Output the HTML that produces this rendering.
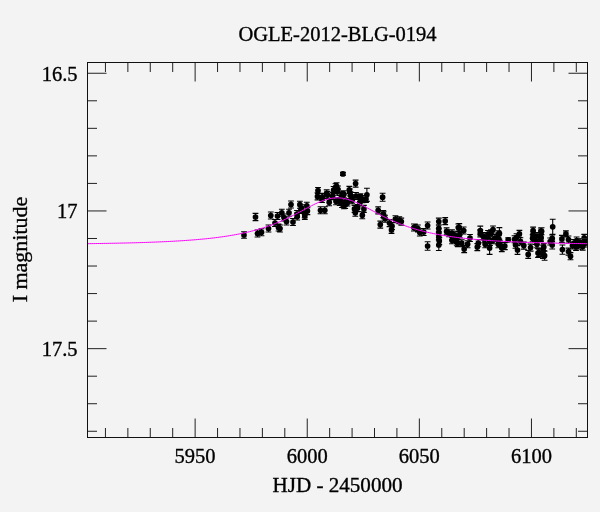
<!DOCTYPE html>
<html><head><meta charset="utf-8"><style>
html,body{margin:0;padding:0;background:#f3f3f3;}
svg{display:block;}
text{stroke:#000;stroke-width:0.35px;}
.gs{will-change:transform;}
text{font-family:"Liberation Serif", serif;fill:#000;}
</style></head><body>
<svg class="gs" width="600" height="512" viewBox="0 0 600 512">
<rect x="0" y="0" width="600" height="512" fill="#f3f3f3"/>
<text x="337.5" y="41" font-size="20.5" text-anchor="middle">OGLE-2012-BLG-0194</text>
<text x="337.5" y="491.5" font-size="21.1" text-anchor="middle">HJD - 2450000</text>
<text transform="translate(27,249.5) rotate(-90)" x="0" y="0" font-size="22" text-anchor="middle">I magnitude</text>
<g font-size="20.5" text-anchor="end">
<text x="77.5" y="80.5">16.5</text>
<text x="77.5" y="218">17</text>
<text x="77.5" y="356">17.5</text>
</g>
<g font-size="20.5" text-anchor="middle">
<text x="195.1" y="462.5">5950</text>
<text x="307.2" y="462.5">6000</text>
<text x="419.3" y="462.5">6050</text>
<text x="531.5" y="462.5">6100</text>
</g>
<defs><clipPath id="c"><rect x="87.5" y="62.5" width="500" height="375"/></clipPath></defs>
<g clip-path="url(#c)">
<path d="M244.0,231.8V238.2M241.1,231.8h5.8M241.1,238.2h5.8M255.5,213.4V220.6M252.6,213.4h5.8M252.6,220.6h5.8M257.5,230.0V237.0M254.6,230.0h5.8M254.6,237.0h5.8M261.5,228.7V235.7M258.6,228.7h5.8M258.6,235.7h5.8M268.5,225.0V232.0M265.6,225.0h5.8M265.6,232.0h5.8M270.8,212.0V219.0M267.9,212.0h5.8M267.9,219.0h5.8M277.5,212.5V219.5M274.6,212.5h5.8M274.6,219.5h5.8M275.0,219.5V226.5M272.1,219.5h5.8M272.1,226.5h5.8M278.5,224.0V231.0M275.6,224.0h5.8M275.6,231.0h5.8M280.0,225.0V232.0M277.1,225.0h5.8M277.1,232.0h5.8M281.8,209.3V216.3M278.9,209.3h5.8M278.9,216.3h5.8M284.0,214.0V221.0M281.1,214.0h5.8M281.1,221.0h5.8M286.5,218.0V225.0M283.6,218.0h5.8M283.6,225.0h5.8M289.0,209.3V216.3M286.1,209.3h5.8M286.1,216.3h5.8M291.0,201.0V208.0M288.1,201.0h5.8M288.1,208.0h5.8M293.0,218.5V225.5M290.1,218.5h5.8M290.1,225.5h5.8M297.2,213.0V220.0M294.3,213.0h5.8M294.3,220.0h5.8M299.9,201.2V208.2M297.0,201.2h5.8M297.0,208.2h5.8M301.5,204.9V211.9M298.6,204.9h5.8M298.6,211.9h5.8M304.7,210.8V217.8M301.8,210.8h5.8M301.8,217.8h5.8M306.8,202.3V209.3M303.9,202.3h5.8M303.9,209.3h5.8M307.4,207.6V214.6M304.5,207.6h5.8M304.5,214.6h5.8M300.9,206.5V213.5M298.0,206.5h5.8M298.0,213.5h5.8M297.0,210.5V217.5M294.1,210.5h5.8M294.1,217.5h5.8M304.8,212.4V219.4M301.9,212.4h5.8M301.9,219.4h5.8M318.0,187.5V193.5M315.1,187.5h5.8M315.1,193.5h5.8M317.5,192.9V199.9M314.6,192.9h5.8M314.6,199.9h5.8M322.3,193.4V200.4M319.4,193.4h5.8M319.4,200.4h5.8M326.7,189.9V196.9M323.8,189.9h5.8M323.8,196.9h5.8M320.5,206.8V213.8M317.6,206.8h5.8M317.6,213.8h5.8M324.8,206.8V213.8M321.9,206.8h5.8M321.9,213.8h5.8M329.2,198.7V205.7M326.3,198.7h5.8M326.3,205.7h5.8M333.6,186.5V193.5M330.7,186.5h5.8M330.7,193.5h5.8M335.5,183.8V190.8M332.6,183.8h5.8M332.6,190.8h5.8M338.0,186.0V193.0M335.1,186.0h5.8M335.1,193.0h5.8M336.0,197.7V204.7M333.1,197.7h5.8M333.1,204.7h5.8M332.6,192.6V199.6M329.7,192.6h5.8M329.7,199.6h5.8M341.9,191.9V198.9M339.0,191.9h5.8M339.0,198.9h5.8M343.8,201.7V208.7M340.9,201.7h5.8M340.9,208.7h5.8M342.9,172.4V175.4M340.0,172.4h5.8M340.0,175.4h5.8M355.6,180.1V187.1M352.7,180.1h5.8M352.7,187.1h5.8M349.3,186.4V193.4M346.4,186.4h5.8M346.4,193.4h5.8M366.9,188.2V201.4M364.0,188.2h5.8M364.0,201.4h5.8M382.6,193.2V201.2M379.7,193.2h5.8M379.7,201.2h5.8M378.2,206.9V213.9M375.3,206.9h5.8M375.3,213.9h5.8M383.3,210.5V217.5M380.4,210.5h5.8M380.4,217.5h5.8M336.6,182.8V189.8M333.7,182.8h5.8M333.7,189.8h5.8M337.3,188.2V195.2M334.4,188.2h5.8M334.4,195.2h5.8M339.7,198.4V205.4M336.8,198.4h5.8M336.8,205.4h5.8M342.8,192.1V199.1M339.9,192.1h5.8M339.9,199.1h5.8M350.6,192.1V199.1M347.7,192.1h5.8M347.7,199.1h5.8M352.2,196.8V203.8M349.3,196.8h5.8M349.3,203.8h5.8M345.2,201.5V208.5M342.3,201.5h5.8M342.3,208.5h5.8M354.5,205.4V212.4M351.6,205.4h5.8M351.6,212.4h5.8M357.7,204.6V211.6M354.8,204.6h5.8M354.8,211.6h5.8M355.3,209.3V216.3M352.4,209.3h5.8M352.4,216.3h5.8M363.9,205.4V212.4M361.0,205.4h5.8M361.0,212.4h5.8M362.3,211.7V218.7M359.4,211.7h5.8M359.4,218.7h5.8M360.0,194.5V201.5M357.1,194.5h5.8M357.1,201.5h5.8M322.0,195.5V202.5M319.1,195.5h5.8M319.1,202.5h5.8M340.0,195.5V202.5M337.1,195.5h5.8M337.1,202.5h5.8M356.0,192.5V199.5M353.1,192.5h5.8M353.1,199.5h5.8M360.0,199.0V206.0M357.1,199.0h5.8M357.1,206.0h5.8M347.5,199.0V206.0M344.6,199.0h5.8M344.6,206.0h5.8M366.0,195.5V202.5M363.1,195.5h5.8M363.1,202.5h5.8M327.5,191.5V198.5M324.6,191.5h5.8M324.6,198.5h5.8M350.0,189.0V196.0M347.1,189.0h5.8M347.1,196.0h5.8M360.5,193.7V200.7M357.6,193.7h5.8M357.6,200.7h5.8M362.5,195.7V202.7M359.6,195.7h5.8M359.6,202.7h5.8M343.9,190.8V197.8M341.0,190.8h5.8M341.0,197.8h5.8M345.9,198.6V205.6M343.0,198.6h5.8M343.0,205.6h5.8M351.7,194.7V201.7M348.8,194.7h5.8M348.8,201.7h5.8M342.0,200.5V207.5M339.1,200.5h5.8M339.1,207.5h5.8M383.7,211.8V218.8M380.8,211.8h5.8M380.8,218.8h5.8M385.1,215.2V222.2M382.2,215.2h5.8M382.2,222.2h5.8M380.3,221.1V228.1M377.4,221.1h5.8M377.4,228.1h5.8M389.5,219.6V226.6M386.6,219.6h5.8M386.6,226.6h5.8M392.0,222.5V229.5M389.1,222.5h5.8M389.1,229.5h5.8M391.5,226.4V233.4M388.6,226.4h5.8M388.6,233.4h5.8M395.4,215.7V222.7M392.5,215.7h5.8M392.5,222.7h5.8M399.3,216.7V223.7M396.4,216.7h5.8M396.4,223.7h5.8M401.3,218.1V225.1M398.4,218.1h5.8M398.4,225.1h5.8M414.9,224.0V231.0M412.0,224.0h5.8M412.0,231.0h5.8M417.9,225.0V232.0M415.0,225.0h5.8M415.0,232.0h5.8M413.9,224.0V231.0M411.0,224.0h5.8M411.0,231.0h5.8M419.8,229.0V236.0M416.9,229.0h5.8M416.9,236.0h5.8M423.7,228.5V235.5M420.8,228.5h5.8M420.8,235.5h5.8M427.6,222.0V229.0M424.7,222.0h5.8M424.7,229.0h5.8M427.6,241.8V250.2M424.7,241.8h5.8M424.7,250.2h5.8M438.8,218.1V225.1M435.9,218.1h5.8M435.9,225.1h5.8M445.2,217.6V224.6M442.3,217.6h5.8M442.3,224.6h5.8M438.8,224.9V231.9M435.9,224.9h5.8M435.9,231.9h5.8M438.8,228.8V235.8M435.9,228.8h5.8M435.9,235.8h5.8M438.8,233.7V240.7M435.9,233.7h5.8M435.9,240.7h5.8M439.3,237.6V244.6M436.4,237.6h5.8M436.4,244.6h5.8M438.8,239.5V250.5M435.9,239.5h5.8M435.9,250.5h5.8M446.6,227.9V234.9M443.7,227.9h5.8M443.7,234.9h5.8M449.1,229.8V236.8M446.2,229.8h5.8M446.2,236.8h5.8M452.0,232.8V239.8M449.1,232.8h5.8M449.1,239.8h5.8M454.9,236.7V243.7M452.0,236.7h5.8M452.0,243.7h5.8M457.9,239.6V246.6M455.0,239.6h5.8M455.0,246.6h5.8M458.3,224.0V231.0M455.4,224.0h5.8M455.4,231.0h5.8M459.3,223.6V231.6M456.4,223.6h5.8M456.4,231.6h5.8M463.7,227.0V234.0M460.8,227.0h5.8M460.8,234.0h5.8M452.0,229.9V236.9M449.1,229.9h5.8M449.1,236.9h5.8M454.9,231.9V238.9M452.0,231.9h5.8M452.0,238.9h5.8M459.8,230.9V237.9M456.9,230.9h5.8M456.9,237.9h5.8M452.0,236.8V243.8M449.1,236.8h5.8M449.1,243.8h5.8M456.8,238.7V245.7M453.9,238.7h5.8M453.9,245.7h5.8M461.7,239.7V246.7M458.8,239.7h5.8M458.8,246.7h5.8M467.6,240.7V247.7M464.7,240.7h5.8M464.7,247.7h5.8M464.2,245.6V252.6M461.3,245.6h5.8M461.3,252.6h5.8M478.3,239.7V246.7M475.4,239.7h5.8M475.4,246.7h5.8M477.3,243.6V250.6M474.4,243.6h5.8M474.4,250.6h5.8M480.3,226.1V234.9M477.4,226.1h5.8M477.4,234.9h5.8M480.3,229.9V236.9M477.4,229.9h5.8M477.4,236.9h5.8M484.2,235.8V242.8M481.3,235.8h5.8M481.3,242.8h5.8M487.1,233.8V240.8M484.2,233.8h5.8M484.2,240.8h5.8M491.0,229.9V236.9M488.1,229.9h5.8M488.1,236.9h5.8M493.0,226.0V233.0M490.1,226.0h5.8M490.1,233.0h5.8M489.6,241.8V254.4M486.7,241.8h5.8M486.7,254.4h5.8M485.2,240.7V247.7M482.3,240.7h5.8M482.3,247.7h5.8M493.0,236.8V243.8M490.1,236.8h5.8M490.1,243.8h5.8M498.3,230.9V237.9M495.4,230.9h5.8M495.4,237.9h5.8M498.3,240.7V247.7M495.4,240.7h5.8M495.4,247.7h5.8M488.0,230.5V237.5M485.1,230.5h5.8M485.1,237.5h5.8M490.0,238.5V245.5M487.1,238.5h5.8M487.1,245.5h5.8M495.0,234.5V241.5M492.1,234.5h5.8M492.1,241.5h5.8M483.0,232.5V239.5M480.1,232.5h5.8M480.1,239.5h5.8M470.0,234.5V241.5M467.1,234.5h5.8M467.1,241.5h5.8M456.0,234.5V241.5M453.1,234.5h5.8M453.1,241.5h5.8M499.4,227.6V239.2M496.5,227.6h5.8M496.5,239.2h5.8M498.9,235.8V242.8M496.0,235.8h5.8M496.0,242.8h5.8M499.9,240.7V247.7M497.0,240.7h5.8M497.0,247.7h5.8M501.8,244.6V251.6M498.9,244.6h5.8M498.9,251.6h5.8M504.8,242.6V249.6M501.9,242.6h5.8M501.9,249.6h5.8M508.2,237.8V241.8M505.3,237.8h5.8M505.3,241.8h5.8M519.4,230.4V237.4M516.5,230.4h5.8M516.5,237.4h5.8M516.5,233.8V240.8M513.6,233.8h5.8M513.6,240.8h5.8M514.5,235.8V242.8M511.6,235.8h5.8M511.6,242.8h5.8M515.5,241.2V248.2M512.6,241.2h5.8M512.6,248.2h5.8M517.5,245.6V254.4M514.6,245.6h5.8M514.6,254.4h5.8M520.4,237.8V244.8M517.5,237.8h5.8M517.5,244.8h5.8M523.8,242.1V249.1M520.9,242.1h5.8M520.9,249.1h5.8M530.6,244.1V251.1M527.7,244.1h5.8M527.7,251.1h5.8M528.2,250.4V258.4M525.3,250.4h5.8M525.3,258.4h5.8M533.1,227.1V233.9M530.2,227.1h5.8M530.2,233.9h5.8M533.1,231.9V238.9M530.2,231.9h5.8M530.2,238.9h5.8M532.6,234.8V241.8M529.7,234.8h5.8M529.7,241.8h5.8M540.9,228.0V234.0M538.0,228.0h5.8M538.0,234.0h5.8M540.9,234.8V241.8M538.0,234.8h5.8M538.0,241.8h5.8M537.0,240.7V247.7M534.1,240.7h5.8M534.1,247.7h5.8M538.0,248.6V257.4M535.1,248.6h5.8M535.1,257.4h5.8M542.9,251.4V258.4M540.0,251.4h5.8M540.0,258.4h5.8M537.0,232.5V239.5M534.1,232.5h5.8M534.1,239.5h5.8M536.0,237.5V244.5M533.1,237.5h5.8M533.1,244.5h5.8M543.8,243.6V250.6M540.9,243.6h5.8M540.9,250.6h5.8M541.6,227.8V234.8M538.7,227.8h5.8M538.7,234.8h5.8M541.0,233.9V240.9M538.1,233.9h5.8M538.1,240.9h5.8M543.1,245.1V252.1M540.2,245.1h5.8M540.2,252.1h5.8M544.6,251.1V260.3M541.7,251.1h5.8M541.7,260.3h5.8M539.0,249.2V256.2M536.1,249.2h5.8M536.1,256.2h5.8M552.7,219.3V234.3M549.8,219.3h5.8M549.8,234.3h5.8M552.2,234.9V241.9M549.3,234.9h5.8M549.3,241.9h5.8M552.2,241.0V249.0M549.3,241.0h5.8M549.3,249.0h5.8M550.2,238.0V245.0M547.3,238.0h5.8M547.3,245.0h5.8M561.9,235.4V242.4M559.0,235.4h5.8M559.0,242.4h5.8M565.9,230.9V236.9M563.0,230.9h5.8M563.0,236.9h5.8M562.4,245.0V254.2M559.5,245.0h5.8M559.5,254.2h5.8M568.5,236.0V243.0M565.6,236.0h5.8M565.6,243.0h5.8M568.5,248.1V255.1M565.6,248.1h5.8M565.6,255.1h5.8M570.5,252.6V259.8M567.6,252.6h5.8M567.6,259.8h5.8M572.5,242.0V249.0M569.6,242.0h5.8M569.6,249.0h5.8M576.6,237.0V244.0M573.7,237.0h5.8M573.7,244.0h5.8M578.6,242.0V249.0M575.7,242.0h5.8M575.7,249.0h5.8M584.2,234.4V241.4M581.3,234.4h5.8M581.3,241.4h5.8M584.7,240.0V247.0M581.8,240.0h5.8M581.8,247.0h5.8M582.7,243.1V250.1M579.8,243.1h5.8M579.8,250.1h5.8M574.0,239.5V246.5M571.1,239.5h5.8M571.1,246.5h5.8M580.0,238.5V245.5M577.1,238.5h5.8M577.1,245.5h5.8M576.0,243.5V250.5M573.1,243.5h5.8M573.1,250.5h5.8M586.0,237.5V244.5M583.1,237.5h5.8M583.1,244.5h5.8" stroke="#000" stroke-width="1.1" fill="none"/>
<g fill="#000"><circle cx="244.0" cy="235.0" r="2.85"/><circle cx="255.5" cy="217.0" r="2.85"/><circle cx="257.5" cy="233.5" r="2.85"/><circle cx="261.5" cy="232.2" r="2.85"/><circle cx="268.5" cy="228.5" r="2.85"/><circle cx="270.8" cy="215.5" r="2.85"/><circle cx="277.5" cy="216.0" r="2.85"/><circle cx="275.0" cy="223.0" r="2.85"/><circle cx="278.5" cy="227.5" r="2.85"/><circle cx="280.0" cy="228.5" r="2.85"/><circle cx="281.8" cy="212.8" r="2.85"/><circle cx="284.0" cy="217.5" r="2.85"/><circle cx="286.5" cy="221.5" r="2.85"/><circle cx="289.0" cy="212.8" r="2.85"/><circle cx="291.0" cy="204.5" r="2.85"/><circle cx="293.0" cy="222.0" r="2.85"/><circle cx="297.2" cy="216.5" r="2.85"/><circle cx="299.9" cy="204.7" r="2.85"/><circle cx="301.5" cy="208.4" r="2.85"/><circle cx="304.7" cy="214.3" r="2.85"/><circle cx="306.8" cy="205.8" r="2.85"/><circle cx="307.4" cy="211.1" r="2.85"/><circle cx="300.9" cy="210.0" r="2.85"/><circle cx="297.0" cy="214.0" r="2.85"/><circle cx="304.8" cy="215.9" r="2.85"/><circle cx="318.0" cy="190.5" r="2.85"/><circle cx="317.5" cy="196.4" r="2.85"/><circle cx="322.3" cy="196.9" r="2.85"/><circle cx="326.7" cy="193.4" r="2.85"/><circle cx="320.5" cy="210.3" r="2.85"/><circle cx="324.8" cy="210.3" r="2.85"/><circle cx="329.2" cy="202.2" r="2.85"/><circle cx="333.6" cy="190.0" r="2.85"/><circle cx="335.5" cy="187.3" r="2.85"/><circle cx="338.0" cy="189.5" r="2.85"/><circle cx="336.0" cy="201.2" r="2.85"/><circle cx="332.6" cy="196.1" r="2.85"/><circle cx="341.9" cy="195.4" r="2.85"/><circle cx="343.8" cy="205.2" r="2.85"/><circle cx="342.9" cy="173.9" r="2.85"/><circle cx="355.6" cy="183.6" r="2.85"/><circle cx="349.3" cy="189.9" r="2.85"/><circle cx="366.9" cy="194.8" r="2.85"/><circle cx="382.6" cy="197.2" r="2.85"/><circle cx="378.2" cy="210.4" r="2.85"/><circle cx="383.3" cy="214.0" r="2.85"/><circle cx="336.6" cy="186.3" r="2.85"/><circle cx="337.3" cy="191.7" r="2.85"/><circle cx="339.7" cy="201.9" r="2.85"/><circle cx="342.8" cy="195.6" r="2.85"/><circle cx="350.6" cy="195.6" r="2.85"/><circle cx="352.2" cy="200.3" r="2.85"/><circle cx="345.2" cy="205.0" r="2.85"/><circle cx="354.5" cy="208.9" r="2.85"/><circle cx="357.7" cy="208.1" r="2.85"/><circle cx="355.3" cy="212.8" r="2.85"/><circle cx="363.9" cy="208.9" r="2.85"/><circle cx="362.3" cy="215.2" r="2.85"/><circle cx="360.0" cy="198.0" r="2.85"/><circle cx="322.0" cy="199.0" r="2.85"/><circle cx="340.0" cy="199.0" r="2.85"/><circle cx="356.0" cy="196.0" r="2.85"/><circle cx="360.0" cy="202.5" r="2.85"/><circle cx="347.5" cy="202.5" r="2.85"/><circle cx="366.0" cy="199.0" r="2.85"/><circle cx="327.5" cy="195.0" r="2.85"/><circle cx="350.0" cy="192.5" r="2.85"/><circle cx="360.5" cy="197.2" r="2.85"/><circle cx="362.5" cy="199.2" r="2.85"/><circle cx="343.9" cy="194.3" r="2.85"/><circle cx="345.9" cy="202.1" r="2.85"/><circle cx="351.7" cy="198.2" r="2.85"/><circle cx="342.0" cy="204.0" r="2.85"/><circle cx="383.7" cy="215.3" r="2.85"/><circle cx="385.1" cy="218.7" r="2.85"/><circle cx="380.3" cy="224.6" r="2.85"/><circle cx="389.5" cy="223.1" r="2.85"/><circle cx="392.0" cy="226.0" r="2.85"/><circle cx="391.5" cy="229.9" r="2.85"/><circle cx="395.4" cy="219.2" r="2.85"/><circle cx="399.3" cy="220.2" r="2.85"/><circle cx="401.3" cy="221.6" r="2.85"/><circle cx="414.9" cy="227.5" r="2.85"/><circle cx="417.9" cy="228.5" r="2.85"/><circle cx="413.9" cy="227.5" r="2.85"/><circle cx="419.8" cy="232.5" r="2.85"/><circle cx="423.7" cy="232.0" r="2.85"/><circle cx="427.6" cy="225.5" r="2.85"/><circle cx="427.6" cy="246.0" r="2.85"/><circle cx="438.8" cy="221.6" r="2.85"/><circle cx="445.2" cy="221.1" r="2.85"/><circle cx="438.8" cy="228.4" r="2.85"/><circle cx="438.8" cy="232.3" r="2.85"/><circle cx="438.8" cy="237.2" r="2.85"/><circle cx="439.3" cy="241.1" r="2.85"/><circle cx="438.8" cy="245.0" r="2.85"/><circle cx="446.6" cy="231.4" r="2.85"/><circle cx="449.1" cy="233.3" r="2.85"/><circle cx="452.0" cy="236.3" r="2.85"/><circle cx="454.9" cy="240.2" r="2.85"/><circle cx="457.9" cy="243.1" r="2.85"/><circle cx="458.3" cy="227.5" r="2.85"/><circle cx="459.3" cy="227.6" r="2.85"/><circle cx="463.7" cy="230.5" r="2.85"/><circle cx="452.0" cy="233.4" r="2.85"/><circle cx="454.9" cy="235.4" r="2.85"/><circle cx="459.8" cy="234.4" r="2.85"/><circle cx="452.0" cy="240.3" r="2.85"/><circle cx="456.8" cy="242.2" r="2.85"/><circle cx="461.7" cy="243.2" r="2.85"/><circle cx="467.6" cy="244.2" r="2.85"/><circle cx="464.2" cy="249.1" r="2.85"/><circle cx="478.3" cy="243.2" r="2.85"/><circle cx="477.3" cy="247.1" r="2.85"/><circle cx="480.3" cy="230.5" r="2.85"/><circle cx="480.3" cy="233.4" r="2.85"/><circle cx="484.2" cy="239.3" r="2.85"/><circle cx="487.1" cy="237.3" r="2.85"/><circle cx="491.0" cy="233.4" r="2.85"/><circle cx="493.0" cy="229.5" r="2.85"/><circle cx="489.6" cy="248.1" r="2.85"/><circle cx="485.2" cy="244.2" r="2.85"/><circle cx="493.0" cy="240.3" r="2.85"/><circle cx="498.3" cy="234.4" r="2.85"/><circle cx="498.3" cy="244.2" r="2.85"/><circle cx="488.0" cy="234.0" r="2.85"/><circle cx="490.0" cy="242.0" r="2.85"/><circle cx="495.0" cy="238.0" r="2.85"/><circle cx="483.0" cy="236.0" r="2.85"/><circle cx="470.0" cy="238.0" r="2.85"/><circle cx="456.0" cy="238.0" r="2.85"/><circle cx="499.4" cy="233.4" r="2.85"/><circle cx="498.9" cy="239.3" r="2.85"/><circle cx="499.9" cy="244.2" r="2.85"/><circle cx="501.8" cy="248.1" r="2.85"/><circle cx="504.8" cy="246.1" r="2.85"/><circle cx="508.2" cy="239.8" r="2.85"/><circle cx="519.4" cy="233.9" r="2.85"/><circle cx="516.5" cy="237.3" r="2.85"/><circle cx="514.5" cy="239.3" r="2.85"/><circle cx="515.5" cy="244.7" r="2.85"/><circle cx="517.5" cy="250.0" r="2.85"/><circle cx="520.4" cy="241.3" r="2.85"/><circle cx="523.8" cy="245.6" r="2.85"/><circle cx="530.6" cy="247.6" r="2.85"/><circle cx="528.2" cy="254.4" r="2.85"/><circle cx="533.1" cy="230.5" r="2.85"/><circle cx="533.1" cy="235.4" r="2.85"/><circle cx="532.6" cy="238.3" r="2.85"/><circle cx="540.9" cy="231.0" r="2.85"/><circle cx="540.9" cy="238.3" r="2.85"/><circle cx="537.0" cy="244.2" r="2.85"/><circle cx="538.0" cy="253.0" r="2.85"/><circle cx="542.9" cy="254.9" r="2.85"/><circle cx="537.0" cy="236.0" r="2.85"/><circle cx="536.0" cy="241.0" r="2.85"/><circle cx="543.8" cy="247.1" r="2.85"/><circle cx="541.6" cy="231.3" r="2.85"/><circle cx="541.0" cy="237.4" r="2.85"/><circle cx="543.1" cy="248.6" r="2.85"/><circle cx="544.6" cy="255.7" r="2.85"/><circle cx="539.0" cy="252.7" r="2.85"/><circle cx="552.7" cy="226.8" r="2.85"/><circle cx="552.2" cy="238.4" r="2.85"/><circle cx="552.2" cy="245.0" r="2.85"/><circle cx="550.2" cy="241.5" r="2.85"/><circle cx="561.9" cy="238.9" r="2.85"/><circle cx="565.9" cy="233.9" r="2.85"/><circle cx="562.4" cy="249.6" r="2.85"/><circle cx="568.5" cy="239.5" r="2.85"/><circle cx="568.5" cy="251.6" r="2.85"/><circle cx="570.5" cy="256.2" r="2.85"/><circle cx="572.5" cy="245.5" r="2.85"/><circle cx="576.6" cy="240.5" r="2.85"/><circle cx="578.6" cy="245.5" r="2.85"/><circle cx="584.2" cy="237.9" r="2.85"/><circle cx="584.7" cy="243.5" r="2.85"/><circle cx="582.7" cy="246.6" r="2.85"/><circle cx="574.0" cy="243.0" r="2.85"/><circle cx="580.0" cy="242.0" r="2.85"/><circle cx="576.0" cy="247.0" r="2.85"/><circle cx="586.0" cy="241.0" r="2.85"/></g>
</g>
<path d="M87.5,243.67 L89.5,243.64 L91.5,243.62 L93.5,243.59 L95.5,243.56 L97.5,243.53 L99.5,243.50 L101.5,243.47 L103.5,243.43 L105.5,243.40 L107.5,243.37 L109.5,243.33 L111.5,243.29 L113.5,243.25 L115.5,243.21 L117.5,243.17 L119.5,243.13 L121.5,243.09 L123.5,243.04 L125.5,243.00 L127.5,242.95 L129.5,242.90 L131.5,242.85 L133.5,242.79 L135.5,242.74 L137.5,242.68 L139.5,242.62 L141.5,242.56 L143.5,242.50 L145.5,242.43 L147.5,242.36 L149.5,242.29 L151.5,242.22 L153.5,242.14 L155.5,242.07 L157.5,241.98 L159.5,241.90 L161.5,241.81 L163.5,241.72 L165.5,241.63 L167.5,241.53 L169.5,241.43 L171.5,241.33 L173.5,241.22 L175.5,241.11 L177.5,240.99 L179.5,240.87 L181.5,240.75 L183.5,240.62 L185.5,240.48 L187.5,240.34 L189.5,240.20 L191.5,240.04 L193.5,239.89 L195.5,239.72 L197.5,239.55 L199.5,239.38 L201.5,239.19 L203.5,239.00 L205.5,238.80 L207.5,238.60 L209.5,238.38 L211.5,238.16 L213.5,237.93 L215.5,237.69 L217.5,237.44 L219.5,237.17 L221.5,236.90 L223.5,236.62 L225.5,236.32 L227.5,236.02 L229.5,235.70 L231.5,235.37 L233.5,235.02 L235.5,234.66 L237.5,234.28 L239.5,233.89 L241.5,233.49 L243.5,233.06 L245.5,232.62 L247.5,232.16 L249.5,231.69 L251.5,231.19 L253.5,230.67 L255.5,230.13 L257.5,229.57 L259.5,228.99 L261.5,228.39 L263.5,227.76 L265.5,227.11 L267.5,226.43 L269.5,225.72 L271.5,225.00 L273.5,224.24 L275.5,223.46 L277.5,222.65 L279.5,221.81 L281.5,220.95 L283.5,220.06 L285.5,219.14 L287.5,218.20 L289.5,217.23 L291.5,216.24 L293.5,215.23 L295.5,214.20 L297.5,213.16 L299.5,212.10 L301.5,211.03 L303.5,209.96 L305.5,208.89 L307.5,207.82 L309.5,206.77 L311.5,205.73 L313.5,204.73 L315.5,203.75 L317.5,202.83 L319.5,201.95 L321.5,201.14 L323.5,200.40 L325.5,199.73 L327.5,199.16 L329.5,198.68 L331.5,198.30 L333.5,198.04 L335.5,197.88 L337.5,197.84 L339.5,197.91 L341.5,198.09 L343.5,198.38 L345.5,198.79 L347.5,199.29 L349.5,199.88 L351.5,200.56 L353.5,201.32 L355.5,202.15 L357.5,203.04 L359.5,203.98 L361.5,204.96 L363.5,205.98 L365.5,207.02 L367.5,208.07 L369.5,209.14 L371.5,210.21 L373.5,211.29 L375.5,212.35 L377.5,213.41 L379.5,214.45 L381.5,215.48 L383.5,216.48 L385.5,217.46 L387.5,218.43 L389.5,219.36 L391.5,220.27 L393.5,221.16 L395.5,222.01 L397.5,222.84 L399.5,223.65 L401.5,224.42 L403.5,225.17 L405.5,225.89 L407.5,226.59 L409.5,227.26 L411.5,227.91 L413.5,228.53 L415.5,229.13 L417.5,229.71 L419.5,230.26 L421.5,230.80 L423.5,231.31 L425.5,231.80 L427.5,232.27 L429.5,232.73 L431.5,233.16 L433.5,233.58 L435.5,233.99 L437.5,234.37 L439.5,234.75 L441.5,235.10 L443.5,235.45 L445.5,235.77 L447.5,236.09 L449.5,236.39 L451.5,236.69 L453.5,236.97 L455.5,237.24 L457.5,237.50 L459.5,237.74 L461.5,237.98 L463.5,238.21 L465.5,238.44 L467.5,238.65 L469.5,238.85 L471.5,239.05 L473.5,239.24 L475.5,239.42 L477.5,239.59 L479.5,239.76 L481.5,239.92 L483.5,240.08 L485.5,240.23 L487.5,240.37 L489.5,240.51 L491.5,240.65 L493.5,240.78 L495.5,240.90 L497.5,241.02 L499.5,241.14 L501.5,241.25 L503.5,241.35 L505.5,241.46 L507.5,241.56 L509.5,241.65 L511.5,241.75 L513.5,241.83 L515.5,241.92 L517.5,242.00 L519.5,242.08 L521.5,242.16 L523.5,242.24 L525.5,242.31 L527.5,242.38 L529.5,242.45 L531.5,242.51 L533.5,242.57 L535.5,242.63 L537.5,242.69 L539.5,242.75 L541.5,242.80 L543.5,242.86 L545.5,242.91 L547.5,242.96 L549.5,243.01 L551.5,243.05 L553.5,243.10 L555.5,243.14 L557.5,243.18 L559.5,243.22 L561.5,243.26 L563.5,243.30 L565.5,243.34 L567.5,243.37 L569.5,243.41 L571.5,243.44 L573.5,243.48 L575.5,243.51 L577.5,243.54 L579.5,243.57 L581.5,243.60 L583.5,243.62 L585.5,243.65 L587.5,243.68" fill="none" stroke="#ff00ff" stroke-width="1"/>
<path d="M105.44,437.5V428.0M105.44,62.5V72.0M127.86,437.5V428.0M127.86,62.5V72.0M150.28,437.5V428.0M150.28,62.5V72.0M172.70,437.5V428.0M172.70,62.5V72.0M195.13,437.5V418.5M195.13,62.5V81.5M217.55,437.5V428.0M217.55,62.5V72.0M239.97,437.5V428.0M239.97,62.5V72.0M262.39,437.5V428.0M262.39,62.5V72.0M284.81,437.5V428.0M284.81,62.5V72.0M307.24,437.5V418.5M307.24,62.5V81.5M329.66,437.5V428.0M329.66,62.5V72.0M352.08,437.5V428.0M352.08,62.5V72.0M374.50,437.5V428.0M374.50,62.5V72.0M396.92,437.5V428.0M396.92,62.5V72.0M419.35,437.5V418.5M419.35,62.5V81.5M441.77,437.5V428.0M441.77,62.5V72.0M464.19,437.5V428.0M464.19,62.5V72.0M486.61,437.5V428.0M486.61,62.5V72.0M509.03,437.5V428.0M509.03,62.5V72.0M531.46,437.5V418.5M531.46,62.5V81.5M553.88,437.5V428.0M553.88,62.5V72.0M576.30,437.5V428.0M576.30,62.5V72.0M87.5,73.25H106.5M587.5,73.25H568.5M87.5,100.79H97.0M587.5,100.79H578.0M87.5,128.33H97.0M587.5,128.33H578.0M87.5,155.87H97.0M587.5,155.87H578.0M87.5,183.41H97.0M587.5,183.41H578.0M87.5,210.95H106.5M587.5,210.95H568.5M87.5,238.49H97.0M587.5,238.49H578.0M87.5,266.03H97.0M587.5,266.03H578.0M87.5,293.57H97.0M587.5,293.57H578.0M87.5,321.11H97.0M587.5,321.11H578.0M87.5,348.65H106.5M587.5,348.65H568.5M87.5,376.19H97.0M587.5,376.19H578.0M87.5,403.73H97.0M587.5,403.73H578.0M87.5,431.27H97.0M587.5,431.27H578.0" fill="none" stroke="#222" stroke-width="1"/>
<rect x="87.5" y="62.5" width="500.0" height="375.0" fill="none" stroke="#111" stroke-width="1"/>
</svg>
</body></html>
